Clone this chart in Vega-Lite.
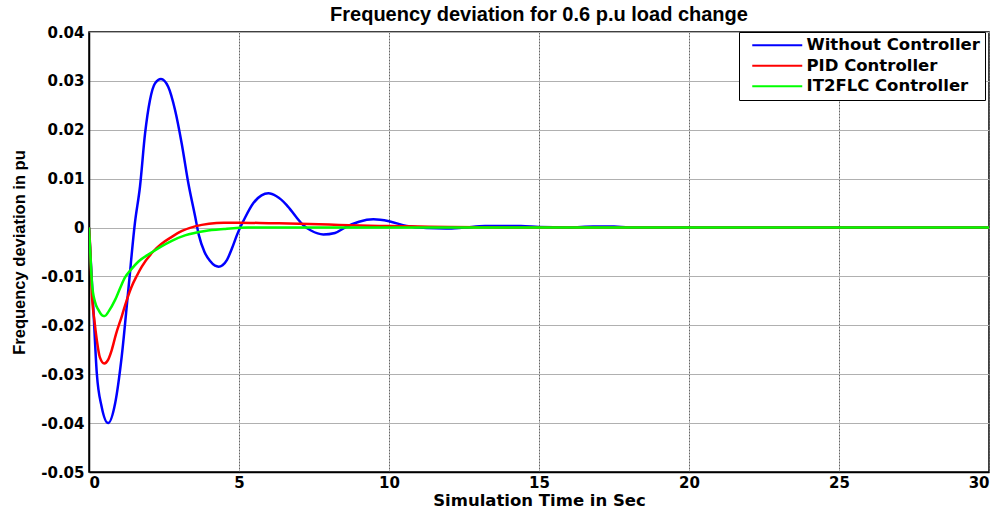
{
  "$schema": "https://vega.github.io/schema/vega-lite/v6.json",
  "width": 900,
  "height": 440,
  "autosize": "none",
  "padding": {"left": 89, "top": 32, "right": 14, "bottom": 40},
  "background": "white",
  "config": {
    "font": "DejaVu Sans",
    "view": {"stroke": "black", "strokeWidth": 1.5},
    "axis": {"labelFont": "DejaVu Sans", "titleFont": "DejaVu Sans", "labelFontWeight": "bold", "titleFontWeight": "bold", "labelFontSize": 15, "titleFontSize": 16.5, "labelColor": "black", "titleColor": "black", "domainColor": "black", "domainWidth": 1.5, "ticks": false}
  },
  "title": {"text": "Frequency deviation  for 0.6 p.u load change", "fontSize": 20, "fontWeight": "bold", "font": "Liberation Sans", "color": "black", "offset": 0, "anchor": "middle"},
  "data": {"values": [
    {"t": 0, "v": 0, "s": "Without Controller"},
    {"t": 0.14, "v": -0.016, "s": "Without Controller"},
    {"t": 0.26, "v": -0.0298, "s": "Without Controller"},
    {"t": 0.42, "v": -0.0366, "s": "Without Controller"},
    {"t": 0.64, "v": -0.04, "s": "Without Controller"},
    {"t": 0.87, "v": -0.036, "s": "Without Controller"},
    {"t": 1.09, "v": -0.0264, "s": "Without Controller"},
    {"t": 1.31, "v": -0.0128, "s": "Without Controller"},
    {"t": 1.53, "v": 0.0009, "s": "Without Controller"},
    {"t": 1.7, "v": 0.0084, "s": "Without Controller"},
    {"t": 1.87, "v": 0.0193, "s": "Without Controller"},
    {"t": 2.03, "v": 0.026, "s": "Without Controller"},
    {"t": 2.2, "v": 0.0295, "s": "Without Controller"},
    {"t": 2.4, "v": 0.0304, "s": "Without Controller"},
    {"t": 2.64, "v": 0.0288, "s": "Without Controller"},
    {"t": 2.87, "v": 0.024, "s": "Without Controller"},
    {"t": 3.09, "v": 0.0172, "s": "Without Controller"},
    {"t": 3.31, "v": 0.0091, "s": "Without Controller"},
    {"t": 3.54, "v": 0.0022, "s": "Without Controller"},
    {"t": 3.66, "v": -0.0015, "s": "Without Controller"},
    {"t": 3.85, "v": -0.005, "s": "Without Controller"},
    {"t": 4.03, "v": -0.0068, "s": "Without Controller"},
    {"t": 4.2, "v": -0.0078, "s": "Without Controller"},
    {"t": 4.32, "v": -0.008, "s": "Without Controller"},
    {"t": 4.45, "v": -0.0077, "s": "Without Controller"},
    {"t": 4.6, "v": -0.0066, "s": "Without Controller"},
    {"t": 4.77, "v": -0.0042, "s": "Without Controller"},
    {"t": 4.94, "v": -0.0014, "s": "Without Controller"},
    {"t": 5.2, "v": 0.002, "s": "Without Controller"},
    {"t": 5.48, "v": 0.005, "s": "Without Controller"},
    {"t": 5.75, "v": 0.0066, "s": "Without Controller"},
    {"t": 5.98, "v": 0.007, "s": "Without Controller"},
    {"t": 6.25, "v": 0.0064, "s": "Without Controller"},
    {"t": 6.59, "v": 0.0046, "s": "Without Controller"},
    {"t": 6.9, "v": 0.0022, "s": "Without Controller"},
    {"t": 7.14, "v": 0.0005, "s": "Without Controller"},
    {"t": 7.4, "v": -0.0006, "s": "Without Controller"},
    {"t": 7.81, "v": -0.0014, "s": "Without Controller"},
    {"t": 8.2, "v": -0.0011, "s": "Without Controller"},
    {"t": 8.59, "v": 0.0002, "s": "Without Controller"},
    {"t": 9.0, "v": 0.0012, "s": "Without Controller"},
    {"t": 9.48, "v": 0.0017, "s": "Without Controller"},
    {"t": 10.0, "v": 0.0013, "s": "Without Controller"},
    {"t": 10.59, "v": 0.0003, "s": "Without Controller"},
    {"t": 11.26, "v": -0.0001, "s": "Without Controller"},
    {"t": 11.9, "v": -0.0002, "s": "Without Controller"},
    {"t": 12.5, "v": 0, "s": "Without Controller"},
    {"t": 13.2, "v": 0.0003, "s": "Without Controller"},
    {"t": 14.4, "v": 0.0003, "s": "Without Controller"},
    {"t": 15, "v": 0.0001, "s": "Without Controller"},
    {"t": 16, "v": 0, "s": "Without Controller"},
    {"t": 16.8, "v": 0.0002, "s": "Without Controller"},
    {"t": 17.5, "v": 0.0002, "s": "Without Controller"},
    {"t": 18, "v": 0, "s": "Without Controller"},
    {"t": 30, "v": 0, "s": "Without Controller"},
    {"t": 0, "v": 0, "s": "PID Controller"},
    {"t": 0.04, "v": -0.004, "s": "PID Controller"},
    {"t": 0.09, "v": -0.0128, "s": "PID Controller"},
    {"t": 0.18, "v": -0.019, "s": "PID Controller"},
    {"t": 0.26, "v": -0.023, "s": "PID Controller"},
    {"t": 0.36, "v": -0.0265, "s": "PID Controller"},
    {"t": 0.51, "v": -0.0278, "s": "PID Controller"},
    {"t": 0.64, "v": -0.027, "s": "PID Controller"},
    {"t": 0.76, "v": -0.025, "s": "PID Controller"},
    {"t": 0.9, "v": -0.0218, "s": "PID Controller"},
    {"t": 1.09, "v": -0.0182, "s": "PID Controller"},
    {"t": 1.25, "v": -0.015, "s": "PID Controller"},
    {"t": 1.42, "v": -0.0121, "s": "PID Controller"},
    {"t": 1.6, "v": -0.0098, "s": "PID Controller"},
    {"t": 1.76, "v": -0.008, "s": "PID Controller"},
    {"t": 2.14, "v": -0.0049, "s": "PID Controller"},
    {"t": 2.4, "v": -0.0034, "s": "PID Controller"},
    {"t": 2.76, "v": -0.0019, "s": "PID Controller"},
    {"t": 3.1, "v": -0.0007, "s": "PID Controller"},
    {"t": 3.56, "v": 0.0003, "s": "PID Controller"},
    {"t": 4.0, "v": 0.0008, "s": "PID Controller"},
    {"t": 4.5, "v": 0.001, "s": "PID Controller"},
    {"t": 5.0, "v": 0.001, "s": "PID Controller"},
    {"t": 6.0, "v": 0.0009, "s": "PID Controller"},
    {"t": 7.0, "v": 0.0008, "s": "PID Controller"},
    {"t": 8.0, "v": 0.0006, "s": "PID Controller"},
    {"t": 9.0, "v": 0.0004, "s": "PID Controller"},
    {"t": 10.0, "v": 0.0003, "s": "PID Controller"},
    {"t": 11.0, "v": 0.0002, "s": "PID Controller"},
    {"t": 12.0, "v": 0.0001, "s": "PID Controller"},
    {"t": 14.0, "v": 0, "s": "PID Controller"},
    {"t": 30, "v": 0, "s": "PID Controller"},
    {"t": 0, "v": 0, "s": "IT2FLC Controller"},
    {"t": 0.05, "v": -0.006, "s": "IT2FLC Controller"},
    {"t": 0.1, "v": -0.0115, "s": "IT2FLC Controller"},
    {"t": 0.2, "v": -0.0152, "s": "IT2FLC Controller"},
    {"t": 0.31, "v": -0.0168, "s": "IT2FLC Controller"},
    {"t": 0.45, "v": -0.018, "s": "IT2FLC Controller"},
    {"t": 0.53, "v": -0.0181, "s": "IT2FLC Controller"},
    {"t": 0.65, "v": -0.0172, "s": "IT2FLC Controller"},
    {"t": 0.87, "v": -0.0148, "s": "IT2FLC Controller"},
    {"t": 1.05, "v": -0.0122, "s": "IT2FLC Controller"},
    {"t": 1.2, "v": -0.0102, "s": "IT2FLC Controller"},
    {"t": 1.4, "v": -0.0086, "s": "IT2FLC Controller"},
    {"t": 1.64, "v": -0.007, "s": "IT2FLC Controller"},
    {"t": 2.14, "v": -0.0049, "s": "IT2FLC Controller"},
    {"t": 2.4, "v": -0.0039, "s": "IT2FLC Controller"},
    {"t": 2.76, "v": -0.0027, "s": "IT2FLC Controller"},
    {"t": 3.2, "v": -0.0016, "s": "IT2FLC Controller"},
    {"t": 3.87, "v": -0.0007, "s": "IT2FLC Controller"},
    {"t": 4.5, "v": -0.0003, "s": "IT2FLC Controller"},
    {"t": 5.3, "v": 0, "s": "IT2FLC Controller"},
    {"t": 30, "v": 0, "s": "IT2FLC Controller"}
  ]},
  "mark": {"type": "line", "strokeWidth": 2.5, "interpolate": "monotone", "clip": true},
  "encoding": {
    "x": {"field": "t", "type": "quantitative", "scale": {"domain": [0, 30], "nice": false, "zero": false},
      "axis": {"title": "Simulation Time in Sec", "values": [0, 5, 10, 15, 20, 25, 30], "labelPadding": 3, "titlePadding": 2, "gridColor": "#666", "gridDash": [2, 1], "gridWidth": 1}},
    "y": {"field": "v", "type": "quantitative", "scale": {"domain": [-0.05, 0.04], "nice": false, "zero": false},
      "axis": {"title": "Frequency deviation  in pu", "titleFont": "Liberation Sans", "titleFontSize": 16.5, "values": [-0.05, -0.04, -0.03, -0.02, -0.01, 0, 0.01, 0.02, 0.03, 0.04], "format": ".2~f", "labelExpr": "replace(datum.label, '\u2212', '-')", "labelPadding": 5, "titlePadding": 13, "gridColor": "#b0b0b0", "gridWidth": 1}},
    "color": {"field": "s", "type": "nominal", "sort": null,
      "scale": {"domain": ["Without Controller", "PID Controller", "IT2FLC Controller"], "range": ["#0000ff", "#ff0000", "#00ff00"]},
      "legend": {"title": null, "orient": "none", "legendX": 650, "legendY": 0, "strokeColor": "black", "fillColor": "white", "padding": 5, "symbolType": "M-5,0H5", "symbolSize": 100, "symbolStrokeWidth": 2, "symbolOffset": 25, "labelOffset": 21, "labelFont": "DejaVu Sans", "labelFontWeight": "bold", "labelFontSize": 16.5, "labelColor": "black", "rowPadding": 3.5, "labelLimit": 300}}
  }
}
